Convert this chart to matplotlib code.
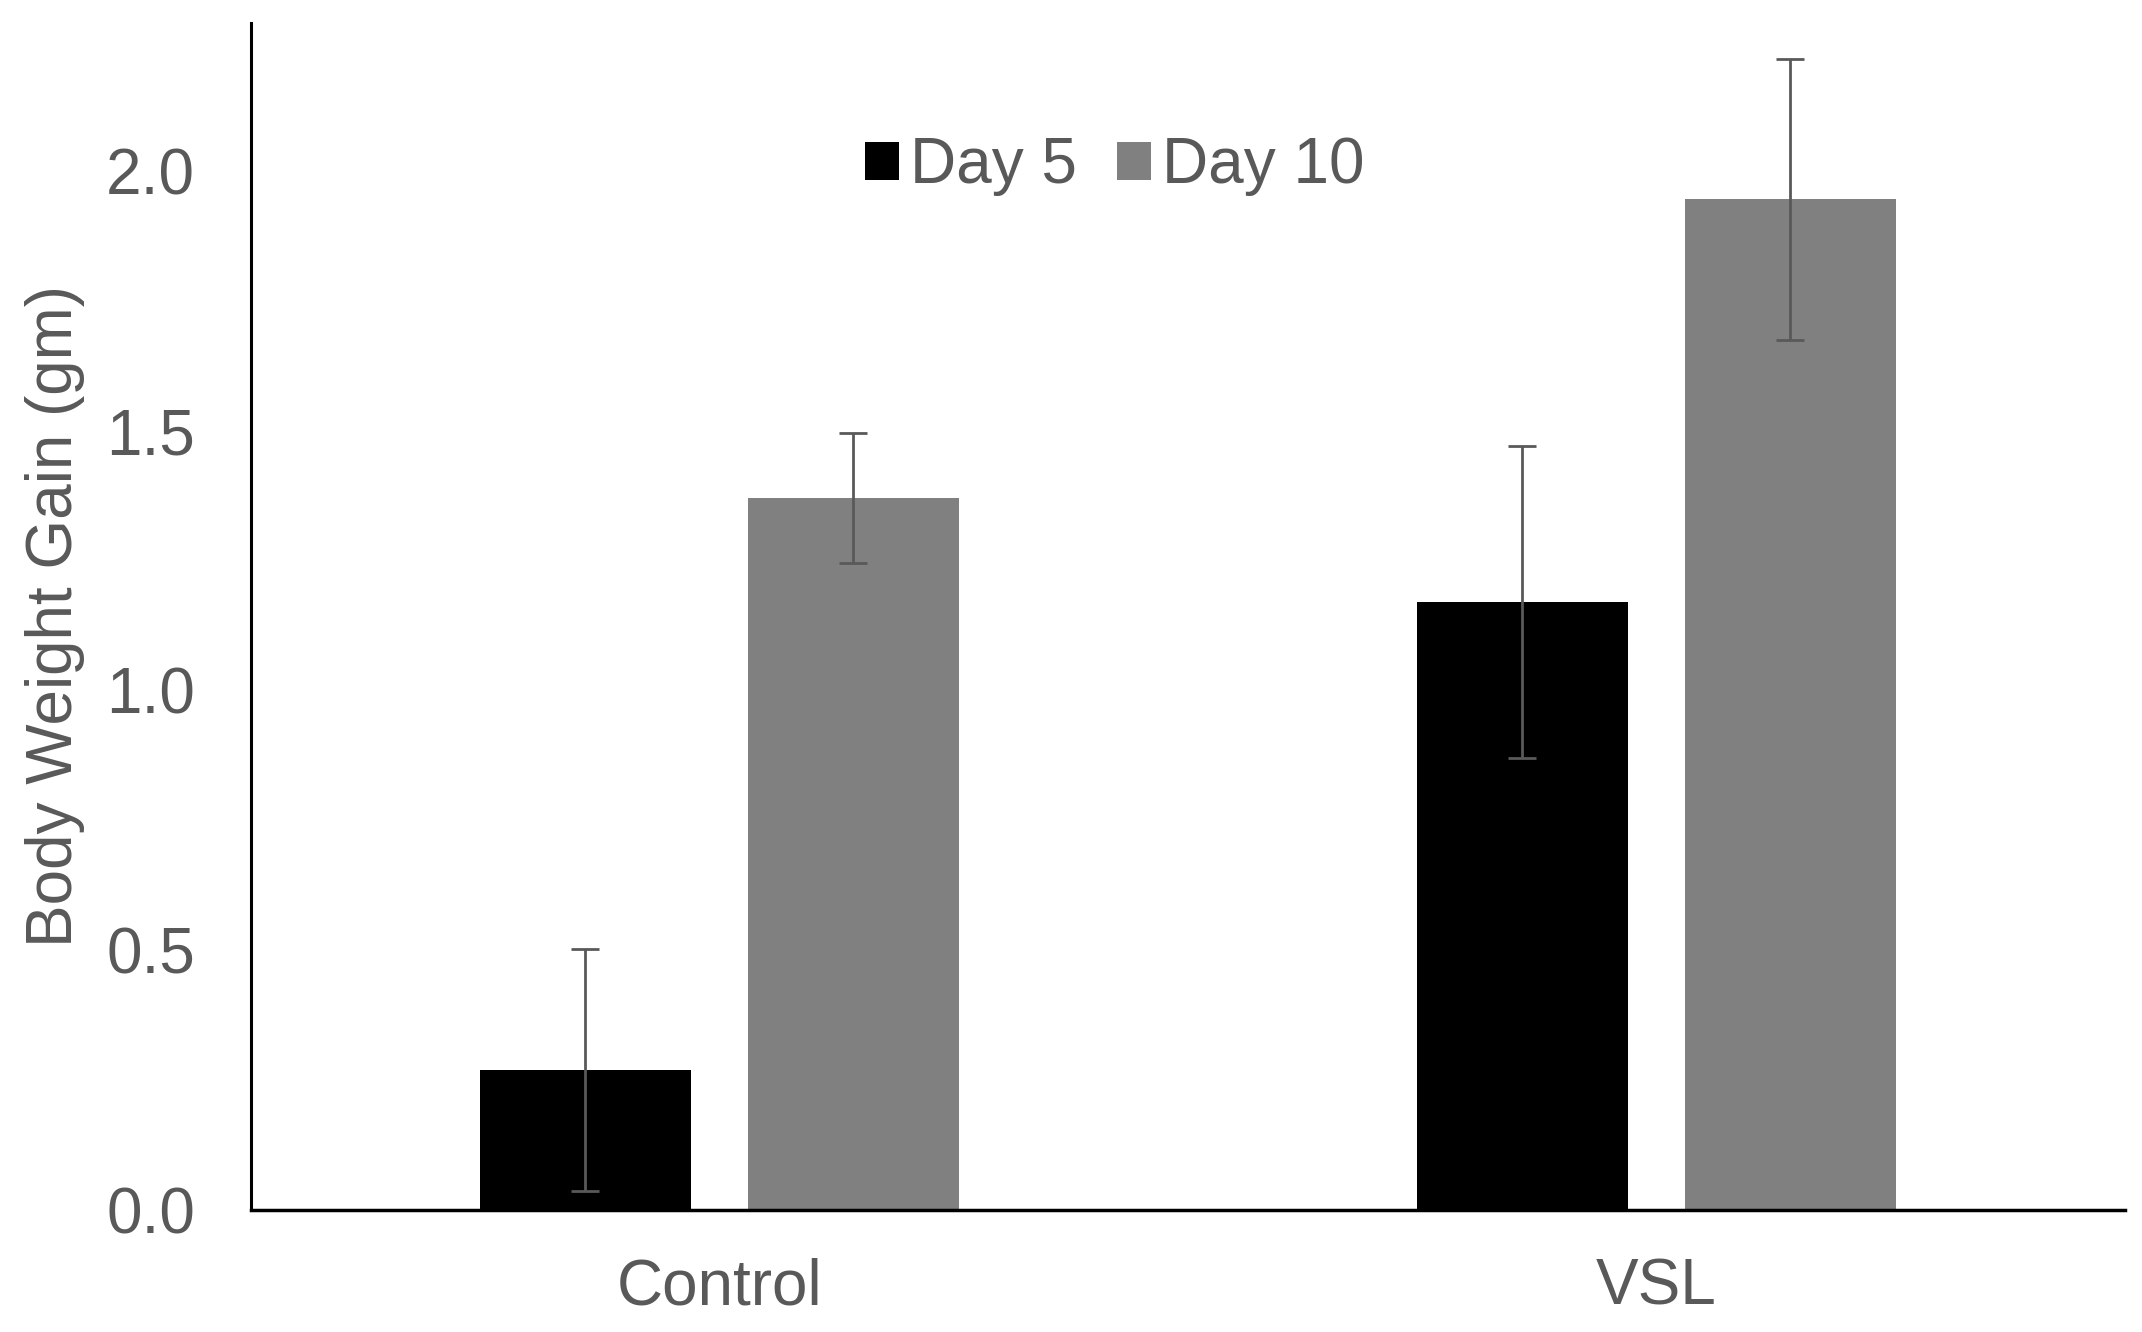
import matplotlib.pyplot as plt
import numpy as np

plt.rcParams['font.family'] = ['Liberation Sans', 'DejaVu Sans']

# values
groups = ["Control", "VSL"]
series = ["Day 5", "Day 10"]
day5 = [0.27, 1.17]
day5_err = [0.233, 0.30]
day10 = [1.37, 1.945]
day10_err = [0.125, 0.27]

text_col = "#595959"
x = np.arange(len(groups))
width = 0.225
offset = 0.143

fig = plt.figure(figsize=(21.42, 13.32), dpi=100)
ax = fig.add_axes([0.117, 0.0916, 0.875, 0.8914])

err_kw = dict(ecolor="#595959", elinewidth=2, capsize=10, capthick=2)
ax.bar(x - offset, day5, width, yerr=day5_err, color="black", label=series[0],
       error_kw=err_kw)
ax.bar(x + offset, day10, width, yerr=day10_err, color="#808080", label=series[1],
       error_kw=err_kw)

ax.set_xlim(-0.5, 1.5)
ax.set_ylim(0, 2.285)
ax.set_yticks([0.0, 0.5, 1.0, 1.5, 2.0])
ax.set_yticklabels(["0.0", "0.5", "1.0", "1.5", "2.0"])
ax.set_xticks(x)
ax.set_xticklabels(groups)
ax.tick_params(axis="both", length=0, labelsize=46, labelcolor=text_col)
ax.tick_params(axis="y", pad=40)
ax.tick_params(axis="x", pad=34)

for s in ["top", "right"]:
    ax.spines[s].set_visible(False)
ax.spines["left"].set_linewidth(2.2)
ax.spines["bottom"].set_linewidth(2.5)

ax.set_ylabel("Body Weight Gain (gm)", fontsize=46, color=text_col)
ax.yaxis.set_label_coords(-0.0886, 0.5)

ax.legend(loc="center", bbox_to_anchor=(0.461, 0.879), ncol=2, frameon=False,
          fontsize=46, labelcolor=text_col, handlelength=0.53, handleheight=0.53,
          handletextpad=0.17, columnspacing=0.64)

fig.savefig("out.png", dpi=100)
